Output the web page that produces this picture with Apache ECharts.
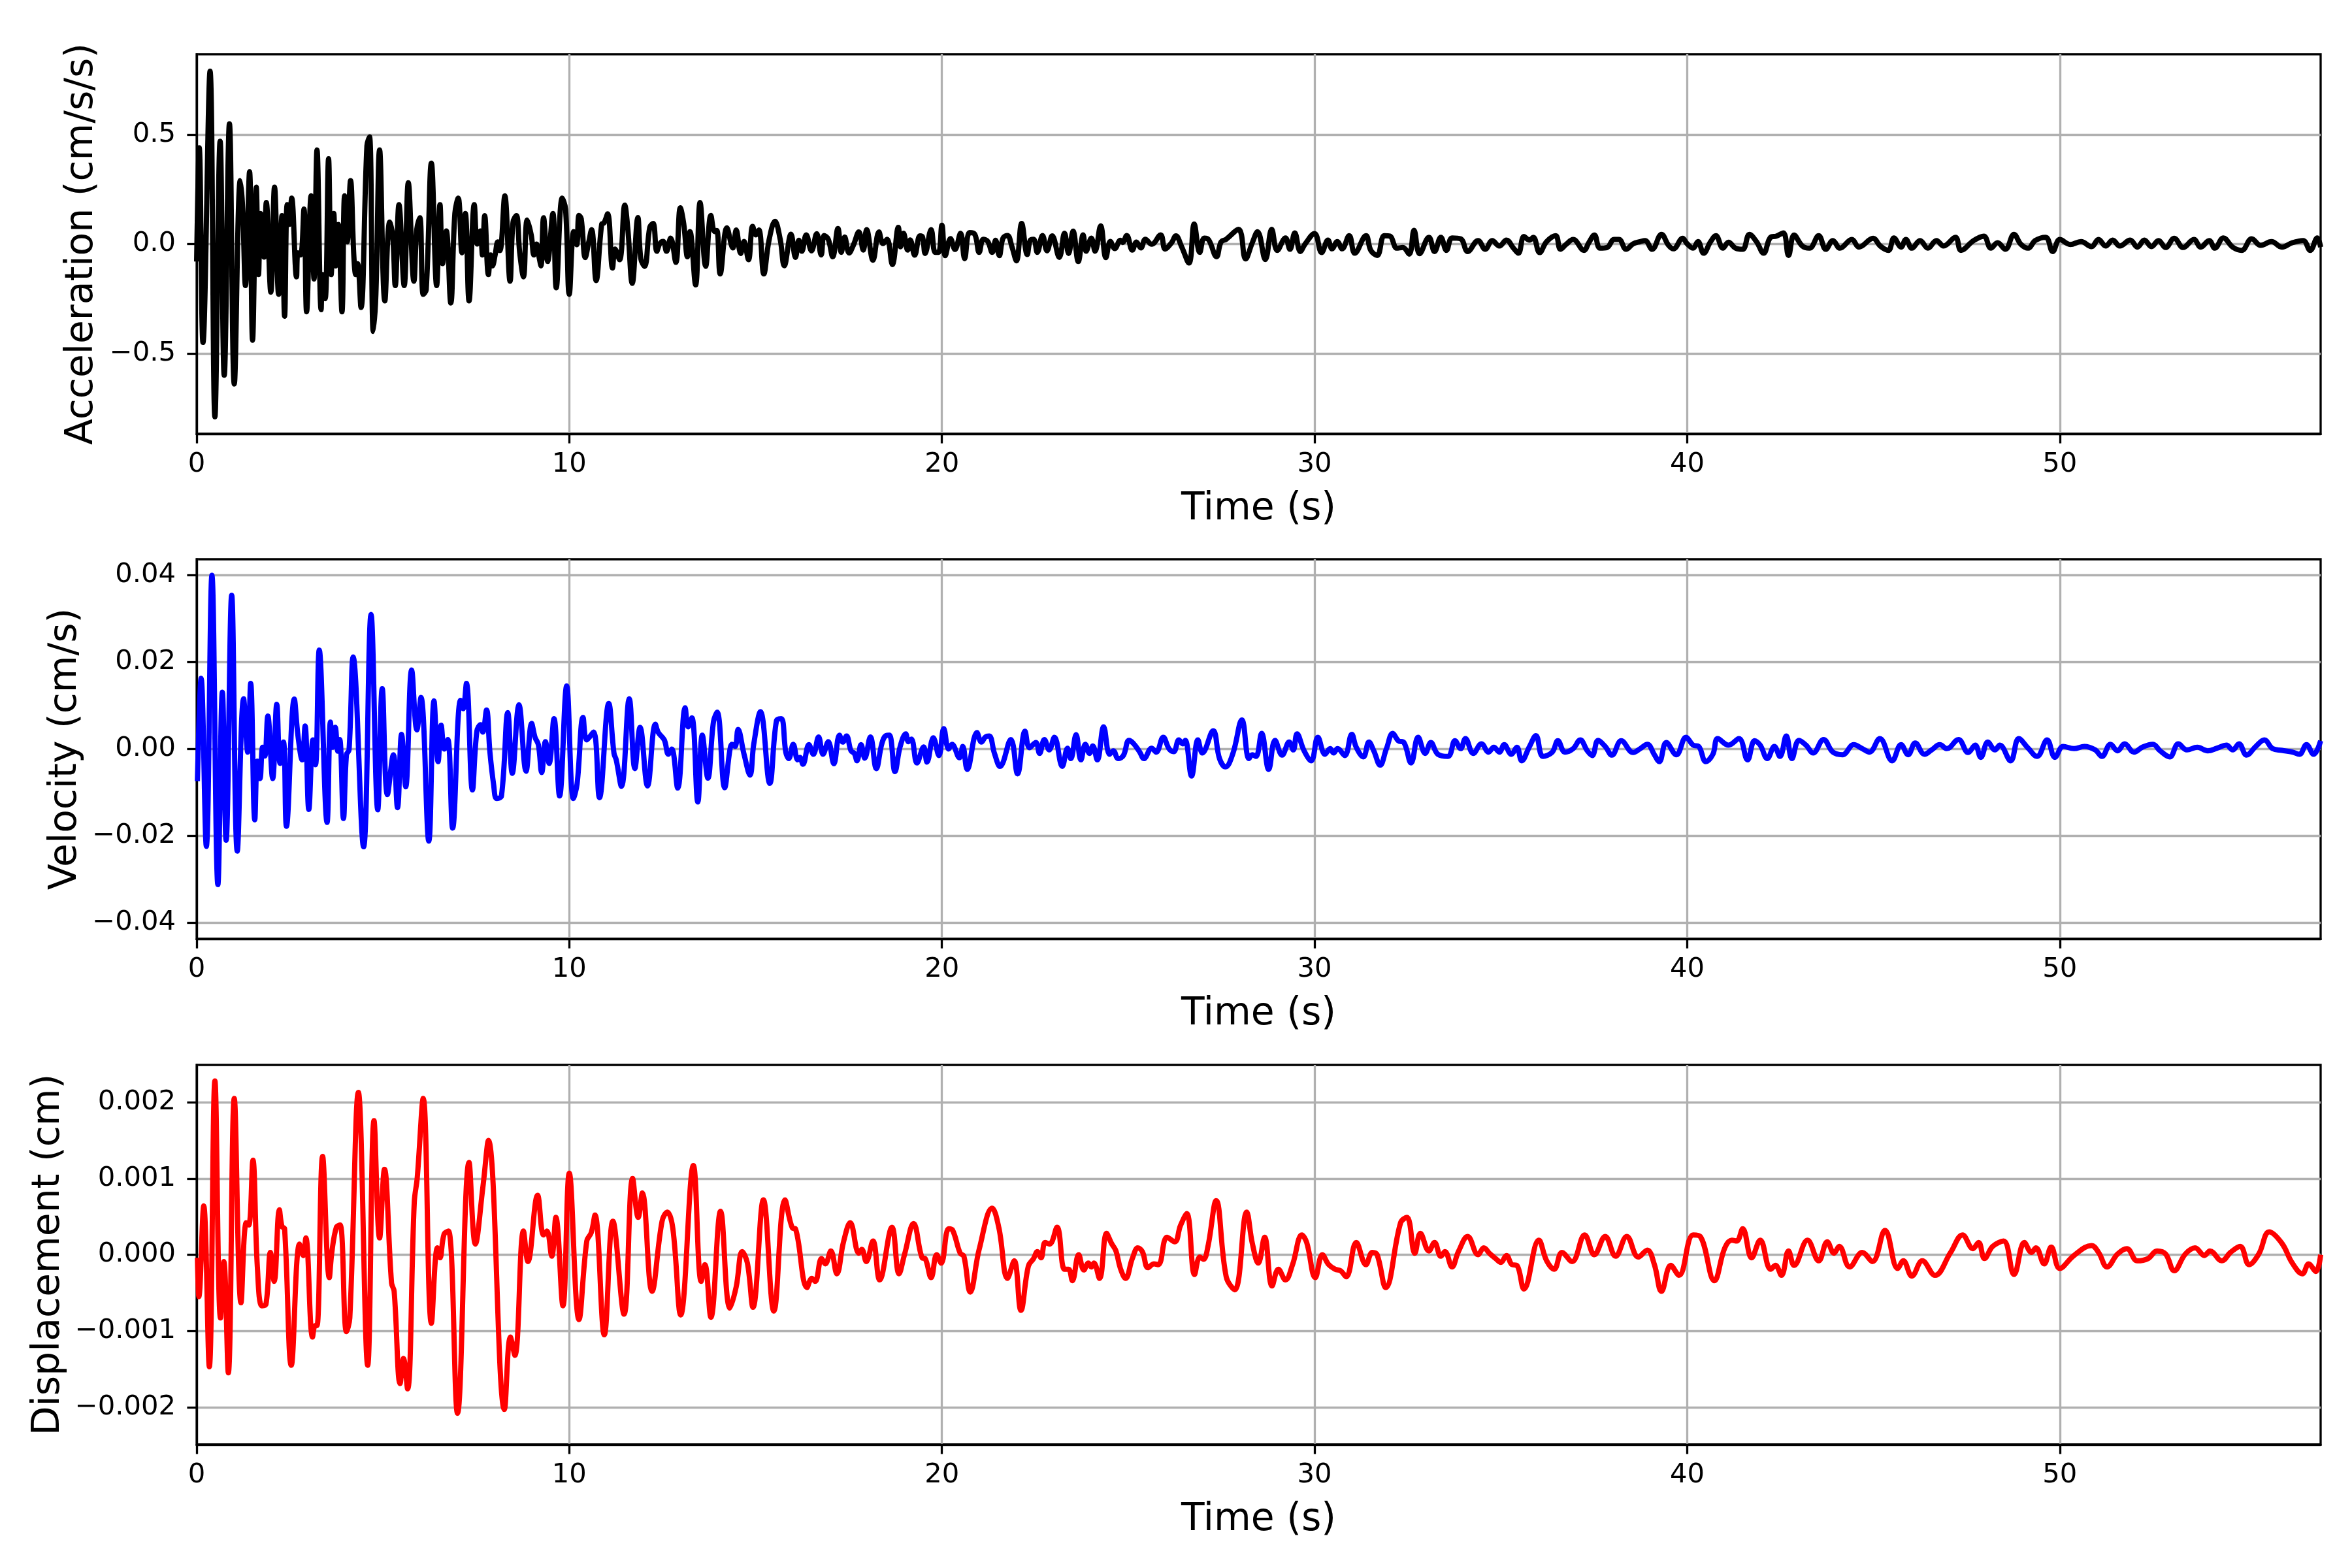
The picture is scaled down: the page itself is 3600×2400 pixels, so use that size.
<!DOCTYPE html>
<html lang="en">
<head>
    <meta charset="UTF-8">
    <title>Ground motion</title>
    <script type="text/javascript" src="https://cdn.jsdelivr.net/npm/echarts@6/dist/echarts.min.js"></script>
    <style>
        html, body { margin: 0; padding: 0; background: #fff; }
        #chart { width: 3600px; height: 2400px; }
    </style>
</head>
<body>
<div id="chart"></div>
<script>
// values (time in s)
var timeTicks = [0, 10, 20, 30, 40, 50];
var accTicks = [-0.5, 0, 0.5];
var velTicks = [-0.04, -0.02, 0, 0.02, 0.04];
var dispTicks = [-0.002, -0.001, 0, 0.001, 0.002];

var accT = [0.00,0.07,0.17,0.36,0.49,0.63,0.74,0.88,1.01,1.17,1.23,1.31,1.42,1.50,1.60,1.66,1.72,1.76,1.81,1.87,1.99,2.09,2.20,2.29,2.36,2.43,2.49,2.55,2.68,2.72,2.79,2.88,2.95,3.07,3.15,3.23,3.34,3.38,3.45,3.54,3.61,3.68,3.73,3.80,3.90,3.97,4.04,4.13,4.22,4.27,4.32,4.41,4.57,4.64,4.74,4.81,4.91,5.05,5.18,5.26,5.33,5.43,5.57,5.68,5.83,5.91,5.99,6.08,6.16,6.30,6.44,6.53,6.60,6.70,6.82,6.93,7.02,7.12,7.21,7.31,7.45,7.53,7.61,7.67,7.73,7.83,7.89,7.94,8.01,8.08,8.14,8.27,8.41,8.49,8.58,8.67,8.77,8.87,8.98,9.05,9.12,9.19,9.24,9.31,9.42,9.56,9.65,9.81,9.90,
    10.00,10.12,10.20,10.26,10.32,10.43,10.52,10.60,10.72,10.87,10.93,11.03,11.16,11.23,11.35,11.49,11.57,11.69,11.84,11.92,12.02,12.16,12.25,12.35,12.43,12.52,12.61,12.72,12.86,12.98,13.07,13.17,13.24,13.39,13.51,13.66,13.80,13.90,13.96,14.05,14.23,14.39,14.48,14.60,14.69,14.81,14.92,15.01,15.09,15.22,15.36,15.52,15.66,15.77,15.95,16.07,16.16,16.24,16.36,16.50,16.64,16.76,16.84,16.95,17.07,17.21,17.30,17.39,17.51,17.63,17.77,17.89,17.98,18.15,18.31,18.42,18.53,18.67,18.83,18.89,18.97,19.08,19.15,19.27,19.41,19.48,19.55,19.71,19.82,19.91,
    20.00,20.09,20.23,20.35,20.50,20.61,20.74,20.88,21.00,21.11,21.23,21.35,21.44,21.54,21.64,21.76,21.88,22.00,22.14,22.29,22.37,22.46,22.56,22.70,22.82,22.96,23.15,23.29,23.40,23.52,23.66,23.79,23.87,24.01,24.11,24.26,24.40,24.52,24.64,24.79,24.85,24.96,25.11,25.22,25.34,25.46,25.63,25.87,25.99,26.16,26.28,26.43,26.63,26.77,26.92,27.04,27.16,27.37,27.49,27.63,
    27.96,28.15,28.33,28.47,28.68,28.85,29.00,29.22,29.34,29.47,29.62,29.75,30.00,30.19,30.36,30.47,30.61,30.74,30.93,31.08,31.38,31.51,31.68,31.87,32.02,32.21,32.37,32.54,32.67,32.82,33.07,33.22,33.39,33.54,33.69,33.92,34.11,34.39,34.58,34.77,34.96,35.15,35.34,35.47,35.62,35.77,35.87,36.04,36.23,36.47,36.60,36.75,36.94,37.23,37.36,37.51,37.66,37.85,38.04,38.17,38.36,38.55,38.74,38.87,39.06,39.31,39.50,39.63,39.88,39.99,
    40.16,40.29,40.44,40.63,40.77,40.96,41.11,41.30,41.49,41.67,41.86,42.05,42.24,42.39,42.58,42.72,42.87,43.09,43.28,43.53,43.72,43.91,44.10,44.42,44.61,44.99,45.18,45.40,45.55,45.74,45.87,46.03,46.25,46.46,46.69,46.88,47.20,47.35,47.69,47.96,48.15,48.33,48.54,48.77,48.96,49.15,49.34,49.62,49.81,50.00,50.28,50.57,50.85,51.04,51.23,51.42,51.61,51.89,52.08,52.27,52.46,52.65,52.84,53.07,53.31,53.60,53.78,54.01,54.16,54.39,54.64,54.88,55.15,55.39,55.68,55.96,56.24,56.53,56.72,56.91,57.00];
var accV = [-0.08,0.44,-0.45,0.79,-0.79,0.47,-0.60,0.55,-0.64,0.29,0.18,-0.19,0.33,-0.44,0.26,-0.14,0.14,0.11,-0.06,0.19,-0.22,0.26,-0.23,0.13,-0.33,0.18,0.09,0.21,-0.15,-0.04,-0.05,0.16,-0.31,0.22,-0.16,0.43,-0.30,-0.14,-0.25,0.39,-0.14,0.14,-0.10,0.09,-0.31,0.22,0.01,0.29,-0.06,-0.14,-0.09,-0.29,0.45,0.49,-0.40,-0.23,0.43,-0.26,0.10,0.04,-0.19,0.18,-0.19,0.28,-0.17,0.07,0.12,-0.23,-0.21,0.37,-0.19,0.18,-0.09,0.06,-0.27,0.14,0.21,-0.04,0.14,-0.26,0.18,0.00,0.06,-0.05,0.13,-0.14,-0.05,-0.10,-0.05,0.01,-0.03,0.22,-0.17,0.10,0.13,-0.04,-0.15,0.11,0.04,-0.05,0.00,-0.06,-0.10,0.12,-0.08,0.14,-0.20,0.21,0.16,
    -0.23,0.057,-0.003,0.131,0.116,-0.062,0.007,0.066,-0.167,0.091,0.096,0.138,-0.110,-0.023,-0.072,0.178,0.071,-0.180,0.121,-0.067,-0.102,0.076,0.094,-0.033,0.002,0.012,-0.033,0.027,-0.084,0.166,0.094,-0.058,0.057,-0.187,0.190,-0.102,0.131,0.057,0.062,-0.137,0.074,-0.018,0.064,-0.043,0.012,-0.072,0.081,0.042,0.064,-0.137,0.017,0.104,0.022,-0.099,0.045,-0.061,0.017,-0.033,0.042,-0.031,0.047,-0.050,0.039,0.022,-0.058,0.071,-0.038,0.032,-0.041,-0.003,0.055,-0.028,0.066,-0.074,0.055,0.002,0.022,-0.094,0.076,-0.013,0.049,-0.028,0.019,-0.051,0.037,0.032,-0.043,0.066,-0.038,-0.038,
    0.086,-0.053,0.025,-0.025,0.049,-0.067,0.052,0.045,-0.038,0.022,0.012,-0.038,0.017,-0.053,0.027,0.039,-0.013,-0.077,0.094,-0.048,0.017,0.022,-0.038,0.039,-0.031,0.037,-0.061,0.049,-0.043,0.059,-0.080,0.042,-0.033,0.027,-0.033,0.083,-0.062,0.012,-0.021,0.017,0.007,0.039,-0.028,0.009,-0.018,0.022,-0.001,0.042,-0.023,0.005,0.037,-0.011,-0.087,0.091,-0.038,0.027,0.019,-0.058,0.009,0.022,
    0.067,-0.068,0.006,0.056,-0.071,0.067,-0.029,0.028,-0.024,0.051,-0.034,0.001,0.048,-0.039,0.018,-0.022,0.011,-0.022,0.038,-0.042,0.038,-0.029,-0.052,0.038,0.036,-0.019,-0.016,-0.046,0.063,-0.044,0.031,-0.034,0.031,-0.029,0.028,0.024,-0.034,0.016,-0.024,0.016,-0.009,0.018,-0.019,-0.042,0.034,0.018,0.031,-0.039,0.011,0.038,-0.024,-0.002,0.021,-0.029,0.006,0.041,-0.019,-0.016,0.021,0.021,-0.024,0.001,0.011,0.016,-0.024,0.044,-0.006,-0.022,0.026,0.003,
    -0.019,0.011,-0.042,0.011,0.038,-0.019,0.008,-0.019,-0.024,0.044,0.011,-0.042,0.031,0.036,0.051,-0.052,0.041,-0.009,-0.019,0.038,-0.024,0.016,-0.019,0.021,-0.014,0.026,-0.009,-0.029,0.028,-0.014,0.021,-0.019,0.016,-0.019,0.016,-0.009,0.031,-0.029,0.016,0.036,-0.019,0.006,-0.024,0.044,-0.002,-0.019,0.016,0.031,-0.034,0.021,-0.002,0.011,-0.012,0.021,-0.009,0.018,-0.009,0.018,-0.014,0.018,-0.012,0.016,-0.016,0.026,-0.016,0.021,-0.014,0.016,-0.019,0.028,-0.014,-0.029,0.024,-0.006,0.011,-0.014,0.006,0.016,-0.029,0.028,-0.014];

var velT = [0.02,0.12,0.26,0.41,0.57,0.69,0.79,0.94,1.09,1.26,1.37,1.45,1.56,1.63,1.70,1.77,1.83,1.91,2.04,2.15,2.24,2.33,2.41,2.62,2.72,2.83,2.91,3.01,3.12,3.19,3.29,3.50,3.59,3.65,3.72,3.79,3.84,3.94,4.02,4.09,4.20,4.48,4.68,4.86,4.98,5.12,5.28,5.39,5.50,5.61,5.77,5.91,6.02,6.23,6.37,6.48,6.56,6.65,6.74,6.87,7.08,7.15,7.24,7.40,7.52,7.62,7.68,7.78,7.87,7.97,8.05,8.18,8.35,8.47,8.65,8.84,8.99,9.08,9.17,9.26,9.36,9.46,9.59,9.74,9.93,10.11,10.21,10.37,10.47,10.65,
    10.81,11.06,11.20,11.26,11.40,11.61,11.76,11.90,12.10,12.31,12.39,12.55,12.66,12.75,12.91,13.11,13.19,13.29,13.45,13.57,13.72,13.87,13.97,14.17,14.31,14.37,14.45,14.53,14.69,14.85,14.95,15.13,15.38,15.56,15.69,15.81,15.89,16.01,16.13,16.19,16.27,16.43,16.55,16.69,16.81,16.95,17.10,17.25,17.34,17.44,17.56,17.65,17.72,17.83,17.93,18.08,18.24,18.39,18.50,18.59,18.74,18.88,19.03,19.10,19.18,19.33,19.51,19.60,19.77,19.92,
    20.05,20.18,20.27,20.47,20.56,20.68,20.94,21.06,21.17,21.27,21.41,21.56,21.85,22.03,22.23,22.35,22.52,22.62,22.75,22.88,23.02,23.23,23.37,23.46,23.60,23.73,23.85,23.96,24.05,24.17,24.34,24.50,24.60,24.73,24.87,25.02,25.14,25.31,25.42,25.63,25.75,25.94,26.10,26.22,26.36,26.46,26.53,26.70,26.87,26.99,27.28,27.45,27.61,27.81,
    28.05,28.24,28.33,28.43,28.58,28.77,28.94,29.13,29.32,29.43,29.53,29.72,29.91,30.09,30.28,30.42,30.51,30.62,30.81,31.00,31.12,31.31,31.46,31.59,31.76,31.93,32.10,32.25,32.40,32.59,32.78,32.97,33.12,33.31,33.58,33.77,33.92,34.05,34.26,34.48,34.67,34.81,34.96,35.09,35.28,35.43,35.56,35.77,35.94,36.13,36.38,36.53,36.72,36.94,37.13,37.32,37.45,37.61,37.80,37.98,38.23,38.55,38.74,38.93,39.12,39.25,39.44,39.71,39.97,
    40.16,40.31,40.50,40.69,40.82,41.11,41.39,41.62,41.81,41.96,42.15,42.34,42.49,42.66,42.81,43.00,43.19,43.38,43.66,43.91,44.17,44.47,44.70,44.89,45.17,45.50,45.74,45.93,46.12,46.37,46.56,46.78,46.97,47.28,47.54,47.73,47.88,48.07,48.26,48.39,48.68,48.90,49.15,49.39,49.66,49.87,50.09,50.38,50.66,50.95,51.13,51.36,51.55,51.74,51.99,52.23,52.50,52.69,52.95,53.18,53.41,53.69,53.97,54.22,54.47,54.64,54.81,55.01,55.26,55.49,55.71,55.96,56.24,56.43,56.62,56.81,57.00];
var velV = [-0.0074,0.0163,-0.0224,0.0400,-0.0312,0.0131,-0.0210,0.0354,-0.0235,0.0116,-0.0007,0.0151,-0.0163,-0.0028,-0.0068,0.0004,-0.0016,0.0076,-0.0068,0.0103,-0.0033,0.0016,-0.0178,0.0115,0.0030,-0.0025,0.0053,-0.0139,0.0021,-0.0036,0.0228,-0.0169,0.0062,0.0004,0.0050,-0.0005,0.0022,-0.0160,-0.0013,-0.0002,0.0212,-0.0225,0.0310,-0.0140,0.0139,-0.0105,-0.0013,-0.0135,0.0034,-0.0087,0.0182,0.0044,0.0119,-0.0212,0.0111,-0.0029,0.0055,0.0000,0.0022,-0.0182,0.0112,0.0093,0.0151,-0.0094,0.0041,0.0056,0.0039,0.0090,-0.0007,-0.0082,-0.0114,-0.0108,0.0084,-0.0056,0.0102,-0.0051,0.0059,0.0027,0.0010,-0.0054,0.0017,-0.0033,0.0070,-0.0108,0.0145,-0.0114,-0.0080,0.0073,0.0021,0.0039,
    -0.0112,0.0105,-0.0010,-0.0025,-0.0086,0.0116,-0.0045,0.0050,-0.0085,0.0057,0.0038,0.0021,-0.0012,0.0000,-0.0090,0.0095,0.0051,0.0072,-0.0122,0.0032,-0.0067,0.0063,0.0085,-0.0089,-0.0002,0.0011,0.0006,0.0045,-0.0012,-0.0060,0.0011,0.0086,-0.0079,0.0065,0.0070,-0.0007,-0.0022,0.0011,-0.0025,-0.0019,-0.0035,0.0010,-0.0012,0.0028,-0.0012,0.0017,-0.0034,0.0032,0.0016,0.0030,-0.0004,-0.0010,-0.0027,0.0010,-0.0021,0.0028,-0.0045,0.0013,0.0031,0.0032,-0.0052,0.0006,0.0035,0.0017,0.0023,-0.0032,0.0005,-0.0030,0.0026,-0.0015,
    0.0047,0.0000,0.0011,-0.0020,0.0006,-0.0047,0.0038,0.0016,0.0028,0.0030,-0.0010,-0.0040,0.0022,-0.0057,0.0041,0.0003,0.0015,-0.0010,0.0022,-0.0002,0.0027,-0.0040,0.0002,-0.0022,0.0033,-0.0025,0.0011,-0.0010,0.0007,-0.0025,0.0051,-0.0012,-0.0004,-0.0022,-0.0015,0.0020,0.0013,-0.0007,-0.0022,0.0002,-0.0007,0.0027,0.0000,-0.0006,0.0021,0.0012,0.0020,-0.0062,0.0021,-0.0009,0.0042,-0.0022,-0.0041,-0.0010,
    0.0067,-0.0022,-0.0013,-0.0017,0.0036,-0.0047,0.0020,-0.0014,0.0016,-0.0002,0.0035,-0.0004,-0.0027,0.0027,-0.0012,0.0001,-0.0009,0.0001,-0.0015,0.0034,0.0004,-0.0018,0.0016,-0.0004,-0.0037,0.0001,0.0036,0.0019,0.0015,-0.0032,0.0027,-0.0010,0.0015,-0.0012,-0.0017,0.0019,0.0001,0.0024,-0.0010,0.0012,-0.0007,0.0004,-0.0007,0.0010,-0.0012,0.0004,-0.0027,0.0006,0.0031,-0.0017,-0.0007,0.0019,-0.0007,0.0001,0.0021,-0.0004,-0.0015,0.0020,0.0006,-0.0014,0.0019,-0.0008,0.0001,0.0011,-0.0013,-0.0029,0.0015,-0.0013,0.0027,
    0.0009,0.0006,-0.0029,-0.0012,0.0024,0.0009,0.0024,-0.0025,0.0019,0.0009,-0.0022,0.0006,-0.0017,0.0030,-0.0022,0.0020,0.0009,-0.0009,0.0022,-0.0007,-0.0013,0.0010,0.0001,-0.0007,0.0024,-0.0027,0.0010,-0.0013,0.0014,-0.0012,-0.0002,0.0010,0.0001,0.0022,-0.0008,0.0009,-0.0019,0.0016,-0.0002,0.0009,-0.0027,0.0024,0.0002,-0.0017,0.0021,-0.0019,0.0006,0.0001,0.0006,-0.0002,-0.0017,0.0011,-0.0004,0.0012,-0.0007,0.0005,0.0011,-0.0004,-0.0018,0.0012,-0.0002,0.0004,-0.0004,0.0002,0.0009,-0.0002,0.0012,-0.0014,0.0006,0.0021,0.0001,-0.0003,-0.0007,-0.0012,0.0010,-0.0012,0.0019];

var dispT = [0.02,0.06,0.19,0.34,0.49,0.64,0.73,0.85,1.01,1.19,1.33,1.40,1.51,1.63,1.75,1.86,1.98,2.08,2.22,2.29,2.36,2.54,2.76,2.86,2.93,3.11,3.18,3.23,3.38,3.56,3.63,3.75,3.85,4.02,4.11,4.34,4.59,4.76,4.91,5.04,5.23,5.30,5.46,5.55,5.66,5.84,5.92,6.08,6.30,6.46,6.53,6.64,6.76,7.00,7.31,7.48,7.68,7.83,8.26,8.42,8.54,8.77,8.89,9.15,9.31,9.40,9.53,9.64,9.83,10.00,10.26,10.47,10.59,10.69,
    10.94,11.17,11.47,11.70,11.85,11.96,12.22,12.49,12.63,12.78,12.99,13.33,13.54,13.64,13.80,14.06,14.31,14.48,14.64,14.78,14.93,15.21,15.49,15.79,15.99,16.07,16.38,16.51,16.60,16.77,16.87,17.02,17.18,17.36,17.54,17.77,17.85,17.97,18.15,18.33,18.66,18.85,19.00,19.24,19.47,19.55,19.71,19.86,19.98,
    20.18,20.29,20.49,20.59,20.76,21.00,21.35,21.53,21.76,21.94,22.12,22.32,22.46,22.56,22.66,22.77,22.89,23.09,23.29,23.40,23.50,23.67,23.81,23.93,24.01,24.08,24.23,24.42,24.55,24.67,24.79,24.93,25.11,25.26,25.38,25.53,25.69,25.81,26.04,26.25,26.40,26.57,26.78,26.92,27.02,27.14,27.36,27.63,27.86,
    28.18,28.33,28.49,28.66,28.86,29.03,29.22,29.41,29.66,29.79,30.02,30.21,30.38,30.55,30.70,30.85,31.12,31.38,31.55,31.68,31.91,32.31,32.48,32.69,32.84,33.07,33.22,33.39,33.50,33.69,33.86,34.11,34.39,34.54,34.71,34.86,35.00,35.15,35.30,35.43,35.62,36.02,36.23,36.43,36.64,36.91,37.25,37.51,37.80,38.08,38.38,38.69,38.93,39.12,39.31,39.56,39.78,
    40.16,40.35,40.73,41.01,41.20,41.33,41.49,41.73,41.96,42.24,42.37,42.53,42.72,42.87,43.23,43.53,43.76,43.94,44.08,44.36,44.70,44.97,45.31,45.65,45.80,46.03,46.31,46.65,47.07,47.39,47.67,47.82,47.98,48.20,48.49,48.77,49.05,49.24,49.36,49.58,49.77,50.00,50.38,50.85,51.04,51.27,51.55,51.80,52.08,52.37,52.61,52.84,53.07,53.37,53.63,53.88,54.03,54.35,54.58,54.84,55.08,55.34,55.62,55.96,56.24,56.51,56.68,56.87,57.00];
var dispV = [-0.00004,-0.00055,0.00064,-0.00147,0.00228,-0.00083,-0.00009,-0.00155,0.00205,-0.00063,0.00042,0.00039,0.00124,-0.00017,-0.00067,-0.00065,0.00003,-0.00035,0.00059,0.00037,0.00034,-0.00145,0.00014,-0.00001,0.00022,-0.00108,-0.00093,-0.00093,0.00129,-0.00030,0.00004,0.00036,0.00039,-0.00101,-0.00083,0.00213,-0.00145,0.00176,0.00022,0.00112,-0.00037,-0.00048,-0.00169,-0.00136,-0.00176,0.00069,0.00101,0.00205,-0.00090,0.00009,-0.00004,0.00027,0.00031,-0.00208,0.00121,0.00014,0.00088,0.00150,-0.00203,-0.00108,-0.00132,0.00031,-0.00009,0.00078,0.00026,0.00031,-0.00002,0.00049,-0.00067,0.00107,-0.00085,0.00018,0.00029,0.00052,
    -0.00105,0.00044,-0.00078,0.00100,0.00049,0.00081,-0.00048,0.00044,0.00056,0.00034,-0.00079,0.00117,-0.00035,-0.00013,-0.00082,0.00057,-0.00070,-0.00042,0.00004,-0.00011,-0.00069,0.00072,-0.00074,0.00072,0.00035,0.00034,-0.00043,-0.00031,-0.00035,-0.00005,-0.00012,0.00005,-0.00025,0.00017,0.00042,0.00002,0.00007,-0.00009,0.00018,-0.00033,0.00036,-0.00025,0.00001,0.00041,-0.00004,-0.00005,-0.00030,0.00000,-0.00011,
    0.00034,0.00032,0.00002,-0.00002,-0.00049,0.00007,0.00061,0.00035,-0.00031,-0.00008,-0.00073,-0.00015,-0.00005,0.00004,-0.00004,0.00016,0.00014,0.00036,-0.00019,-0.00019,-0.00034,0.00000,-0.00020,-0.00011,-0.00016,-0.00011,-0.00031,0.00028,0.00015,0.00005,-0.00018,-0.00031,-0.00005,0.00009,0.00004,-0.00017,-0.00012,-0.00013,0.00023,0.00017,0.00038,0.00054,-0.00026,-0.00003,-0.00006,0.00011,0.00071,-0.00029,-0.00046,
    0.00056,0.00015,-0.00011,0.00023,-0.00041,-0.00019,-0.00033,-0.00013,0.00026,0.00016,-0.00030,0.00000,-0.00013,-0.00019,-0.00021,-0.00029,0.00016,-0.00013,0.00003,0.00000,-0.00043,0.00042,0.00049,0.00002,0.00028,0.00005,0.00016,-0.00002,0.00004,-0.00016,0.00004,0.00024,0.00000,0.00009,0.00001,-0.00005,-0.00010,-0.00001,-0.00013,-0.00014,-0.00045,0.00019,-0.00008,-0.00019,0.00003,-0.00009,0.00026,0.00000,0.00024,-0.00002,0.00024,-0.00003,0.00006,-0.00013,-0.00048,-0.00014,-0.00027,
    0.00026,0.00024,-0.00034,0.00009,0.00019,0.00018,0.00034,-0.00004,0.00019,-0.00019,-0.00014,-0.00027,0.00005,-0.00014,0.00019,-0.00008,0.00017,0.00002,0.00011,-0.00016,0.00003,-0.00009,0.00032,-0.00018,-0.00008,-0.00028,-0.00008,-0.00027,0.00003,0.00026,0.00008,0.00016,-0.00005,0.00011,0.00018,-0.00026,0.00016,0.00003,0.00009,-0.00012,0.00010,-0.00018,-0.00001,0.00012,0.00003,-0.00016,0.00001,0.00008,-0.00008,-0.00005,0.00005,0.00001,-0.00021,0.00001,0.00009,-0.00001,0.00005,-0.00008,0.00003,0.00011,-0.00013,0.00001,0.00030,0.00015,-0.00011,-0.00025,-0.00012,-0.00022,0.00000];

var T_MAX = 57.0;
var FONT = 'DejaVu Sans';

function pairs(t, v) {
    var out = [];
    for (var i = 0; i < t.length; i++) out.push([t[i], v[i]]);
    return out;
}
function fmt(v, d) {
    return v.toFixed(d).replace('-', '\u2212');
}

var tops = [83, 856, 1630];
var grids = tops.map(function (top) {
    return { left: 301, top: top, width: 3251, height: 581, show: true,
             borderColor: '#000', borderWidth: 3.3, backgroundColor: 'transparent' };
});

var xAxes = [0, 1, 2].map(function (i) {
    return {
        type: 'value', gridIndex: i, min: 0, max: T_MAX,
        name: 'Time (s)', nameLocation: 'middle', nameGap: 87,
        nameTextStyle: { fontFamily: FONT, fontSize: 58.3, color: '#000' },
        axisLine: { show: true, onZero: false, lineStyle: { color: '#000', width: 3.3 } },
        axisTick: { show: true, length: 14.6, lineStyle: { color: '#000', width: 3.3 }, customValues: timeTicks },
        axisLabel: { margin: 26, customValues: timeTicks, fontFamily: FONT, fontSize: 41.7, color: '#000',
                     formatter: function (v) { return String(v); } },
        splitLine: { show: true, lineStyle: { color: '#b0b0b0', width: 3.3 } }
    };
});

function yAxis(i, lim, ticks, digits, label, gap) {
    return {
        type: 'value', gridIndex: i, min: -lim, max: lim,
        name: label, nameLocation: 'middle', nameGap: gap,
        nameTextStyle: { fontFamily: FONT, fontSize: 58.3, color: '#000' },
        axisLine: { show: true, onZero: false, lineStyle: { color: '#000', width: 3.3 } },
        axisTick: { show: true, length: 14.6, lineStyle: { color: '#000', width: 3.3 }, customValues: ticks },
        axisLabel: { margin: 32, customValues: ticks, fontFamily: FONT, fontSize: 41.7, color: '#000',
                     formatter: function (v) { return fmt(v, digits); } },
        splitLine: { show: true, lineStyle: { color: '#b0b0b0', width: 3.3 } }
    };
}

var chart = echarts.init(document.getElementById('chart'));
chart.setOption({
    animation: false,
    backgroundColor: '#fff',
    grid: grids,
    xAxis: xAxes,
    yAxis: [
        yAxis(0, 0.868, accTicks, 1, 'Acceleration (cm/s/s)', 146),
        yAxis(1, 0.0437, velTicks, 2, 'Velocity (cm/s)', 170),
        yAxis(2, 0.00249, dispTicks, 3, 'Displacement (cm)', 196)
    ],
    series: [
        { type: 'line', xAxisIndex: 0, yAxisIndex: 0, data: pairs(accT, accV), showSymbol: false,
          smooth: 0.4, lineStyle: { color: '#000000', width: 8 }, itemStyle: { color: '#000000' } },
        { type: 'line', xAxisIndex: 1, yAxisIndex: 1, data: pairs(velT, velV), showSymbol: false,
          smooth: 0.4, lineStyle: { color: '#0000ff', width: 8 }, itemStyle: { color: '#0000ff' } },
        { type: 'line', xAxisIndex: 2, yAxisIndex: 2, data: pairs(dispT, dispV), showSymbol: false,
          smooth: 0.4, lineStyle: { color: '#ff0000', width: 8 }, itemStyle: { color: '#ff0000' } }
    ]
});
</script>
</body>
</html>
